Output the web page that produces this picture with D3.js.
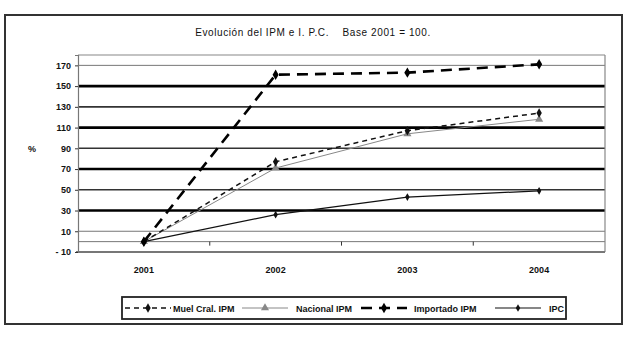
<!DOCTYPE html>
<html><head><meta charset="utf-8">
<script src="https://cdn.jsdelivr.net/npm/d3@7"></script>
<style>
html,body{margin:0;padding:0;background:#fff;}
text{font-family:"Liberation Sans",Arial,sans-serif;}
</style></head>
<body>
<svg id="chart" width="636" height="356"></svg>
<script>
const years = ["2001", "2002", "2003", "2004"];
const muelCral = [0, 77, 107, 124];
const nacional = [0, 71, 104, 118];
const importado = [0, 161, 163, 171];
const ipc = [0, 26, 43, 49];
const yTicks = [-10, 10, 30, 50, 70, 90, 110, 130, 150, 170];
const gridValues = [0, 10, 30, 50, 70, 90, 110, 130, 150, 170];
const thickGrid = [30, 70, 110, 150];
const title = "Evolución del IPM e I. P.C.    Base 2001 = 100.";
const yLabel = "%";

const series = [
  {name: "Muel Cral. IPM", values: muelCral, color: "#111", width: 1.5, dash: "5,4", marker: "diamond", msize: 3.4},
  {name: "Nacional IPM", values: nacional, color: "#888", width: 1, dash: null, marker: "triangle", msize: 3.6},
  {name: "Importado IPM", values: importado, color: "#000", width: 2.6, dash: "11,7", marker: "diamond", msize: 3.8},
  {name: "IPC", values: ipc, color: "#111", width: 1.2, dash: null, marker: "diamond", msize: 2.8}
];

const svg = d3.select("#chart");
const L = 78, R = 605, T = 55, B = 252;

// outer border
svg.append("rect").attr("x", 5).attr("y", 15).attr("width", 617).attr("height", 309)
  .attr("fill", "none").attr("stroke", "#333").attr("stroke-width", 2);

const x = d3.scaleBand().domain(years).range([L, R]);
const y = d3.scaleLinear().domain([-10, 180]).range([B, T]);

// gridlines
svg.append("g").selectAll("line").data(gridValues).join("line")
  .attr("x1", L).attr("x2", R)
  .attr("y1", d => y(d)).attr("y2", d => y(d))
  .attr("stroke", d => thickGrid.includes(d) ? "#000" : (d === 0 || d === 10 || d === 170 ? "#777" : "#333"))
  .attr("stroke-width", d => thickGrid.includes(d) ? 2.6 : (d === 0 || d === 10 || d === 170 ? 1 : 1.6));

// plot border
svg.append("line").attr("x1", L).attr("x2", R).attr("y1", T).attr("y2", T).attr("stroke", "#888").attr("stroke-width", 1.2);
svg.append("line").attr("x1", R).attr("x2", R).attr("y1", T).attr("y2", B).attr("stroke", "#888").attr("stroke-width", 1.2);
svg.append("line").attr("x1", L - 2).attr("x2", R).attr("y1", B).attr("y2", B).attr("stroke", "#777").attr("stroke-width", 2.2);

// y axis
const yAxis = d3.axisLeft(y).tickValues(yTicks).tickSize(3).tickPadding(4).tickFormat(d => d < 0 ? "- " + Math.abs(d) : d);
const gy = svg.append("g").attr("transform", `translate(${L},0)`).call(yAxis);
gy.select(".domain").attr("stroke", "#777").attr("stroke-width", 1.2);
gy.selectAll(".tick line").attr("stroke", "#333");
gy.selectAll(".tick text").attr("font-size", 9).attr("fill", "#111").attr("font-weight", "bold").attr("font-family", "Liberation Sans, Arial, sans-serif");

// x axis at 0, ticks at category boundaries
const gx = svg.append("g").attr("transform", `translate(0,${y(0)})`);
gx.selectAll("line").data(years.slice(1)).join("line")
  .attr("x1", d => x(d)).attr("x2", d => x(d)).attr("y1", 0).attr("y2", 4)
  .attr("stroke", "#333").attr("stroke-width", 1);
svg.append("g").selectAll("text").data(years).join("text")
  .attr("x", d => x(d) + x.bandwidth() / 2).attr("y", 273)
  .attr("text-anchor", "middle").attr("font-size", 9).attr("font-weight", "bold").attr("fill", "#111")
  .text(d => d);

// title
svg.append("text").attr("x", 313).attr("y", 36).attr("text-anchor", "middle")
  .attr("font-size", 10).attr("letter-spacing", 0.6).style("white-space", "pre")
  .attr("fill", "#111").text(title);
// y label
svg.append("text").attr("x", 32).attr("y", 152).attr("text-anchor", "middle")
  .attr("font-size", 9).attr("font-weight", "bold").attr("fill", "#111").text(yLabel);

function markerPath(type, s) {
  if (type === "triangle") return d3.symbol().type(d3.symbolTriangle).size(s * s * 2.2)();
  return d3.symbol().type(d3.symbolDiamond).size(s * s * 2.2)();
}

const line = d3.line().x((d, i) => x(years[i]) + x.bandwidth() / 2).y(d => y(d));

const drawOrder = [1, 3, 0, 2];
drawOrder.forEach(k => {
  const s = series[k];
  svg.append("path").datum(s.values).attr("d", line)
    .attr("fill", "none").attr("stroke", s.color).attr("stroke-width", s.width)
    .attr("stroke-dasharray", s.dash);
  svg.append("g").selectAll("path").data(s.values).join("path")
    .attr("transform", (d, i) => `translate(${x(years[i]) + x.bandwidth() / 2},${y(d)})`)
    .attr("d", markerPath(s.marker, s.msize)).attr("fill", s.color);
});

// legend
const lg = svg.append("g");
lg.append("rect").attr("x", 122).attr("y", 297).attr("width", 444).attr("height", 22)
  .attr("fill", "#fff").attr("stroke", "#222").attr("stroke-width", 1.8);
const legendX = [125, 242, 361, 495];
const legendTextX = [173, 296, 414, 549];
series.forEach((s, i) => {
  const x0 = legendX[i], x1 = x0 + 46, ly = 308;
  lg.append("line").attr("x1", x0).attr("x2", x1).attr("y1", ly).attr("y2", ly)
    .attr("stroke", s.color).attr("stroke-width", s.width).attr("stroke-dasharray", s.dash);
  lg.append("path").attr("transform", `translate(${(x0 + x1) / 2},${ly})`)
    .attr("d", markerPath(s.marker, s.msize)).attr("fill", s.color);
  lg.append("text").attr("x", legendTextX[i]).attr("y", ly + 3.5)
    .attr("font-size", 9).attr("font-weight", "bold").attr("fill", "#111").text(s.name);
});
</script>
</body></html>
